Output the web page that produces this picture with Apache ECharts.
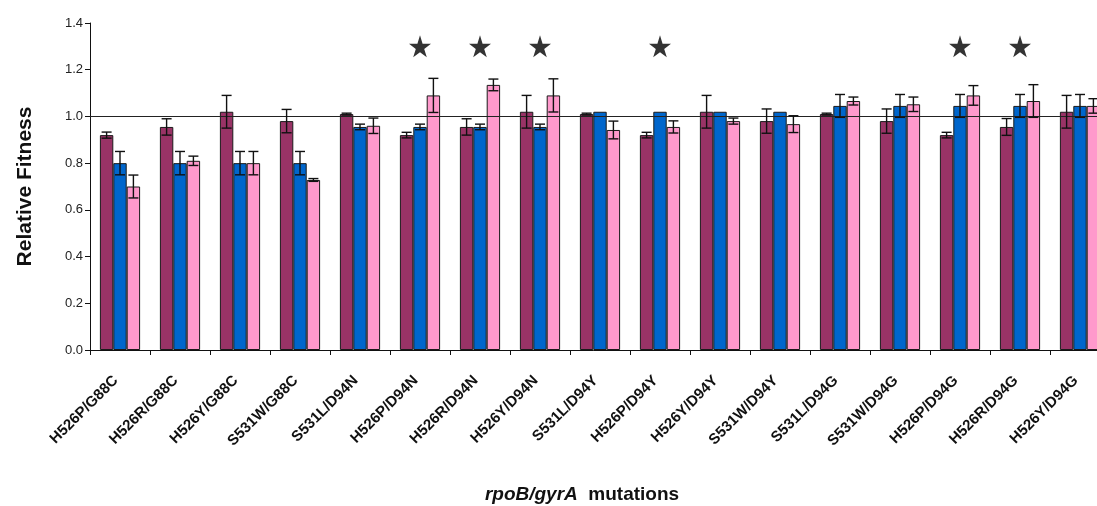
<!DOCTYPE html>
<html>
<head>
<meta charset="utf-8">
<script src="https://cdn.jsdelivr.net/npm/echarts@6/dist/echarts.min.js"></script>
<style>
  html, body { margin: 0; padding: 0; background: #fff; }
  #chart { width: 1097px; height: 506px; }
</style>
</head>
<body>
<div id="chart"></div>
<script>
// rpoB/gyrA double mutants: relative fitness of three strain backgrounds
const categories = ['H526P/G88C', 'H526R/G88C', 'H526Y/G88C', 'S531W/G88C', 'S531L/D94N', 'H526P/D94N',
  'H526R/D94N', 'H526Y/D94N', 'S531L/D94Y', 'H526P/D94Y', 'H526Y/D94Y', 'S531W/D94Y', 'S531L/D94G',
  'S531W/D94G', 'H526P/D94G', 'H526R/D94G', 'H526Y/D94G'];

const series1 = [0.92, 0.955, 1.02, 0.98, 1.01, 0.92, 0.955, 1.02, 1.01, 0.92, 1.02, 0.98, 1.01, 0.98, 0.92, 0.955, 1.02];
const series1Err = [0.013, 0.035, 0.07, 0.05, 0.004, 0.012, 0.035, 0.07, 0.004, 0.012, 0.07, 0.052, 0.004, 0.052, 0.012, 0.036, 0.07];

const series2 = [0.80, 0.80, 0.80, 0.80, 0.955, 0.955, 0.955, 0.955, 1.02, 1.02, 1.02, 1.02, 1.045, 1.045, 1.045, 1.045, 1.045];
const series2Err = [0.05, 0.05, 0.05, 0.05, 0.012, 0.012, 0.012, 0.012, 0, 0, 0, 0, 0.049, 0.049, 0.049, 0.049, 0.049];

const series3 = [0.70, 0.81, 0.80, 0.728, 0.96, 1.09, 1.135, 1.09, 0.942, 0.955, 0.98, 0.967, 1.066, 1.052, 1.09, 1.066, 1.045];
const series3Err = [0.049, 0.02, 0.05, 0.006, 0.033, 0.073, 0.025, 0.071, 0.038, 0.026, 0.013, 0.036, 0.017, 0.031, 0.042, 0.07, 0.031];

// 1 = significant difference, marked with a star
const significant = [0, 0, 0, 0, 0, 1, 1, 1, 0, 1, 0, 0, 0, 0, 1, 1, 0];
const starLevel = 1.3;
const yTicks = [0, 0.2, 0.4, 0.6, 0.8, 1.0, 1.2, 1.4];

const FONT = 'Liberation Sans, Arial, sans-serif';
const COLORS = ['#993366', '#0066CC', '#FF99CC'];
const CAT_GAP = 0.33;

function barSeries(name, values, color, withRef) {
  const s = {
    name, type: 'bar', data: values,
    barGap: '0%', barCategoryGap: (CAT_GAP * 100) + '%',
    itemStyle: { color, borderColor: '#1a1a1a', borderWidth: 1 }
  };
  if (withRef) {
    s.markLine = {
      silent: true, symbol: ['none', 'none'], label: { show: false },
      lineStyle: { color: '#222', width: 1.2, type: 'solid' },
      data: [{ yAxis: 1.0 }]
    };
  }
  return s;
}

function errorSeries(values, errs, slot) {
  return {
    type: 'custom', z: 5, silent: true,
    data: values.map((v, i) => [i, v, errs[i]]),
    encode: { x: 0, y: 1 },
    renderItem(params, api) {
      const i = api.value(0), v = api.value(1), e = api.value(2);
      if (!e) return null;
      const band = api.size([1, 0])[0];
      const bw = band * (1 - CAT_GAP) / 3;
      const cx = api.coord([i, v])[0] + (slot - 1) * bw;
      const top = api.coord([i, v + e])[1];
      const bot = api.coord([i, v - e])[1];
      const cap = 5;
      const st = { stroke: '#111', lineWidth: 1.4 };
      return {
        type: 'group', children: [
          { type: 'line', shape: { x1: cx, y1: top, x2: cx, y2: bot }, style: st },
          { type: 'line', shape: { x1: cx - cap, y1: top, x2: cx + cap, y2: top }, style: st },
          { type: 'line', shape: { x1: cx - cap, y1: bot, x2: cx + cap, y2: bot }, style: st }
        ]
      };
    }
  };
}

const chart = echarts.init(document.getElementById('chart'));
chart.setOption({
  animation: false,
  backgroundColor: '#fff',
  grid: { left: 90, right: -13, top: 23, bottom: 156, containLabel: false, outerBoundsMode: 'none' },
  xAxis: {
    type: 'category', data: categories,
    axisLine: { lineStyle: { color: '#111', width: 1 } },
    axisTick: { show: true, length: 5, lineStyle: { color: '#111' } },
    axisLabel: {
      rotate: 45, margin: 24, interval: 0, padding: [0, 6, 0, 0],
      fontFamily: FONT, fontSize: 15, fontWeight: 'bold', color: '#111'
    },
    name: '{it|rpoB/gyrA}  mutations',
    nameLocation: 'middle', nameGap: 135,
    nameTextStyle: {
      fontFamily: FONT, fontSize: 19, fontWeight: 'bold', color: '#111',
      padding: [0, 36, 0, 0],
      rich: { it: { fontFamily: FONT, fontSize: 19, fontWeight: 'bold', fontStyle: 'italic', color: '#111' } }
    }
  },
  yAxis: {
    type: 'value', min: yTicks[0], max: yTicks[yTicks.length - 1], interval: 0.2,
    axisLine: { show: true, lineStyle: { color: '#111', width: 1 } },
    axisTick: { show: true, length: 5, lineStyle: { color: '#111' } },
    splitLine: { show: false },
    axisLabel: {
      margin: 7, fontFamily: FONT, fontSize: 13, color: '#222',
      formatter: v => v.toFixed(1)
    },
    name: 'Relative Fitness', nameLocation: 'middle', nameGap: 54, nameRotate: 90,
    nameTextStyle: { fontFamily: FONT, fontSize: 21, fontWeight: 'bold', color: '#111' }
  },
  series: [
    barSeries('Series 1', series1, COLORS[0], true),
    barSeries('Series 2', series2, COLORS[1], false),
    barSeries('Series 3', series3, COLORS[2], false),
    errorSeries(series1, series1Err, 0),
    errorSeries(series2, series2Err, 1),
    errorSeries(series3, series3Err, 2),
    {
      type: 'scatter', z: 6, silent: true,
      symbol: 'path://M50,0 L61.2,34.5 L97.6,34.5 L68.2,55.9 L79.4,90.5 L50,69.1 L20.6,90.5 L31.8,55.9 L2.4,34.5 L38.8,34.5 Z',
      symbolSize: 22,
      itemStyle: { color: '#000' },
      data: significant.map((f, i) => f ? [i, starLevel] : null).filter(Boolean)
    }
  ]
});
</script>
</body>
</html>
